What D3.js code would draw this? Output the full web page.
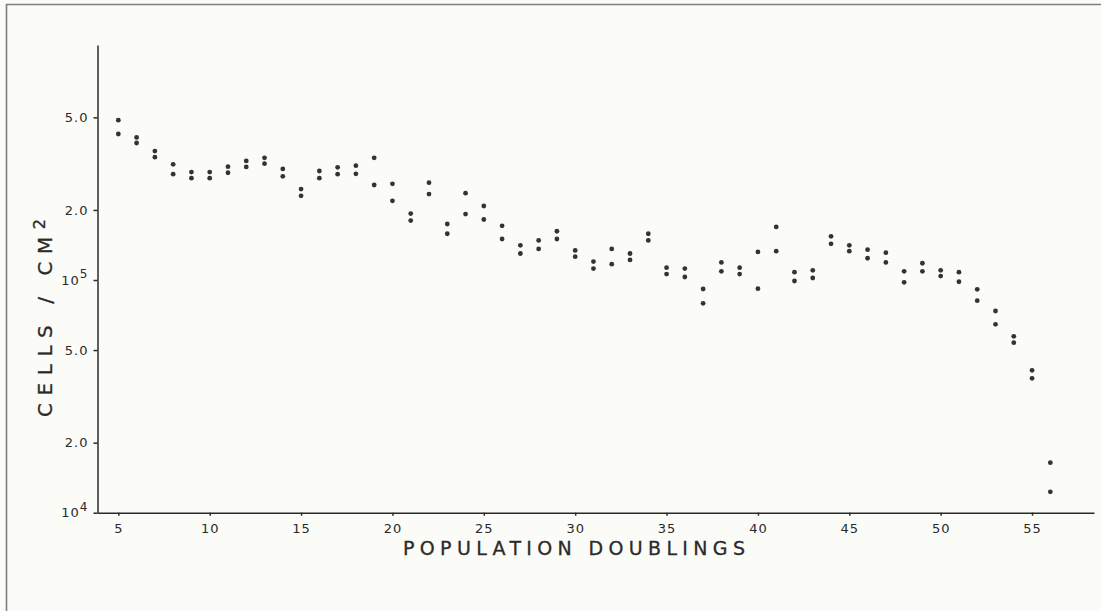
<!DOCTYPE html>
<html>
<head>
<meta charset="utf-8">
<script src="https://cdn.jsdelivr.net/npm/d3@7"></script>
<style>
  html, body { margin: 0; padding: 0; background: #fbfcf8; }
  svg { display: block; }
  .axis path, .axis line { stroke: #2a2a2a; stroke-width: 1.5; }
  .axis text { font-family: "DejaVu Sans", sans-serif; font-size: 13px; fill: #2a2a2a; letter-spacing: 1px; }
  .title { font-family: "DejaVu Sans", sans-serif; fill: #2a2a2a; stroke: #2a2a2a; stroke-width: 0.3; }
  .dot { fill: #333; }
</style>
</head>
<body>
<script>
// population doublings (x) and the two counts read at each one (cells / cm2)
const doublings = [5, 6, 7, 8, 9, 10, 11, 12, 13, 14, 15, 16, 17, 18, 19, 20, 21, 22, 23, 24, 25,
  26, 27, 28, 29, 30, 31, 32, 33, 34, 35, 36, 37, 38, 39, 40, 41, 42, 43, 44, 45, 46, 47, 48,
  49, 50, 51, 52, 53, 54, 55, 56];
const upperCells = [4.86e5, 4.10e5, 3.58e5, 3.14e5, 2.91e5, 2.91e5, 3.07e5, 3.25e5, 3.35e5, 3.00e5,
  2.46e5, 2.94e5, 3.05e5, 3.10e5, 3.35e5, 2.59e5, 1.93e5, 2.62e5, 1.74e5, 2.36e5, 2.08e5,
  1.71e5, 1.41e5, 1.48e5, 1.62e5, 1.34e5, 1.20e5, 1.36e5, 1.30e5, 1.58e5, 1.13e5, 1.12e5,
  9.15e4, 1.19e5, 1.13e5, 1.32e5, 1.69e5, 1.08e5, 1.10e5, 1.54e5, 1.41e5, 1.35e5, 1.31e5,
  1.09e5, 1.18e5, 1.10e5, 1.08e5, 9.12e4, 7.36e4, 5.73e4, 4.09e4, 1.64e4];
const lowerCells = [4.24e5, 3.88e5, 3.37e5, 2.85e5, 2.74e5, 2.74e5, 2.89e5, 3.06e5, 3.16e5, 2.79e5,
  2.30e5, 2.74e5, 2.85e5, 2.86e5, 2.56e5, 2.19e5, 1.80e5, 2.34e5, 1.58e5, 1.92e5, 1.82e5,
  1.50e5, 1.30e5, 1.36e5, 1.50e5, 1.26e5, 1.12e5, 1.17e5, 1.22e5, 1.48e5, 1.06e5, 1.03e5,
  7.94e4, 1.09e5, 1.06e5, 9.18e4, 1.33e5, 9.90e4, 1.02e5, 1.43e5, 1.33e5, 1.24e5, 1.19e5,
  9.77e4, 1.09e5, 1.04e5, 9.83e4, 8.15e4, 6.45e4, 5.38e4, 3.78e4, 1.23e4];

const xTicks = [5, 10, 15, 20, 25, 30, 35, 40, 45, 50, 55];
const yTicks = [1e4, 2e4, 5e4, 1e5, 2e5, 5e5];
const yTickLabels = ["10^4", "2.0", "5.0", "10^5", "2.0", "5.0"];

const width = 1101, height = 611;

const svg = d3.select("body").append("svg")
  .attr("width", width)
  .attr("height", height);

svg.append("rect").attr("width", width).attr("height", height).attr("fill", "#fbfcf8");

// scanned page edge (left and top only)
svg.append("path")
  .attr("d", "M6.5," + height + "V4.5H" + width)
  .attr("fill", "none")
  .attr("stroke", "#7d7d7d")
  .attr("stroke-width", 1.6);

const xScale = d3.scaleLinear()
  .domain([3.86, 58.39])
  .range([97.5, 1094]);

const yScale = d3.scaleLog()
  .domain([1e4, 1.023e6])
  .range([512.7, 45]);

const xAxis = d3.axisBottom(xScale)
  .tickValues(xTicks)
  .tickSize(3)
  .tickSizeOuter(0)
  .tickPadding(6)
  .tickFormat(d3.format("d"));

const yAxis = d3.axisLeft(yScale)
  .tickValues(yTicks)
  .tickSize(4)
  .tickSizeOuter(0)
  .tickPadding(5)
  .tickFormat((d, i) => yTickLabels[i]);

const gX = svg.append("g")
  .attr("class", "x axis")
  .attr("transform", "translate(0," + yScale(1e4) + ")")
  .call(xAxis);
gX.selectAll("text").attr("dy", "0.85em");

const gY = svg.append("g")
  .attr("class", "y axis")
  .attr("transform", "translate(" + xScale(3.86) + ",0)")
  .call(yAxis);

// powers of ten get a raised exponent
gY.selectAll(".tick text").each(function() {
  const t = d3.select(this);
  const s = t.text();
  if (s.indexOf("^") < 0) return;
  const parts = s.split("^");
  t.text(parts[0]);
  t.append("tspan")
    .attr("dy", "-0.55em")
    .style("font-size", "12px")
    .text(parts[1]);
});

// the points: two counts for every doubling
const charts = svg.append("g").attr("class", "charts");
[upperCells, lowerCells].forEach((series, k) => {
  charts.selectAll(".dot" + k)
    .data(doublings)
    .enter().append("circle")
    .attr("class", "dot dot" + k)
    .attr("cx", d => xScale(d))
    .attr("cy", (d, i) => yScale(series[i]))
    .attr("r", 2.4);
});

// axis titles
svg.append("text")
  .attr("class", "title")
  .attr("x", 403)
  .attr("y", 555)
  .attr("textLength", 342)
  .attr("lengthAdjust", "spacing")
  .style("font-size", "19px")
  .text("POPULATION DOUBLINGS");

const yTitle = svg.append("text")
  .attr("class", "title")
  .attr("transform", "translate(51.5,417) rotate(-90)")
  .attr("textLength", 198)
  .attr("lengthAdjust", "spacing")
  .style("font-size", "20px");
yTitle.append("tspan").text("CELLS / CM");
yTitle.append("tspan")
  .attr("dy", "-0.4em")
  .style("font-size", "16px")
  .text("2");
</script>
</body>
</html>
